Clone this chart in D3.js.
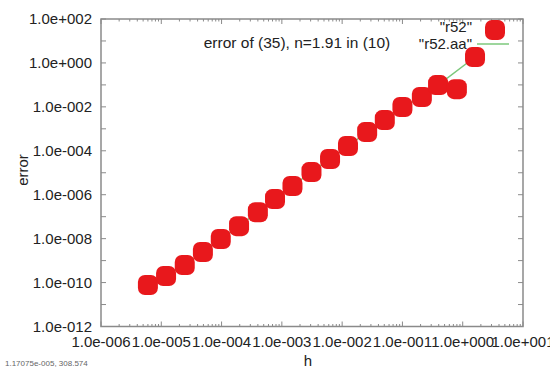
<!DOCTYPE html>
<html>
<head>
<meta charset="utf-8">
<script src="https://cdn.jsdelivr.net/npm/d3@7"></script>
<style>
  body { margin: 0; background: #fff; }
  text { font-family: "Liberation Sans", Arial, sans-serif; }
</style>
</head>
<body>
<div id="chart"></div>
<script>
// error vs h, log-log (gnuplot style)
var r52H = [6.0e-6, 1.2e-5, 2.45e-5, 4.9e-5, 9.7e-5, 1.95e-4, 4.0e-4, 7.7e-4, 1.5e-3, 3.1e-3,
            6.3e-3, 1.25e-2, 2.6e-2, 5.1e-2, 0.10, 0.21, 0.39, 0.80, 1.6];
var r52Err = [7.7e-11, 2.0e-10, 6.3e-10, 2.45e-9, 9.6e-9, 3.7e-8, 1.6e-7, 6.3e-7, 2.5e-6, 1.07e-5,
              4.2e-5, 1.65e-4, 7.1e-4, 2.5e-3, 9.8e-3, 2.8e-2, 9.8e-2, 6.4e-2, 1.86];
var aaH = [6.0e-6, 1.2e-5, 2.45e-5, 4.9e-5, 9.7e-5, 1.95e-4, 4.0e-4, 7.7e-4, 1.5e-3, 3.1e-3,
           6.3e-3, 1.25e-2, 2.6e-2, 5.1e-2, 0.10, 0.21, 0.39, 1.6];
var aaErr = [7.7e-11, 2.0e-10, 6.3e-10, 2.45e-9, 9.6e-9, 3.7e-8, 1.6e-7, 6.3e-7, 2.5e-6, 1.07e-5,
             4.2e-5, 1.65e-4, 7.1e-4, 2.5e-3, 9.8e-3, 2.8e-2, 9.8e-2, 1.86];

var xTicks = [1e-6, 1e-5, 1e-4, 1e-3, 1e-2, 1e-1, 1e0, 1e1];
var xTickLabels = ["1.0e-006", "1.0e-005", "1.0e-004", "1.0e-003", "1.0e-002", "1.0e-001", "1.0e+000", "1.0e+001"];
var yTicks = [1e2, 1e0, 1e-2, 1e-4, 1e-6, 1e-8, 1e-10, 1e-12];
var yTickLabels = ["1.0e+002", "1.0e+000", "1.0e-002", "1.0e-004", "1.0e-006", "1.0e-008", "1.0e-010", "1.0e-012"];
var yMinor = [1e1, 1e-1, 1e-3, 1e-5, 1e-7, 1e-9, 1e-11];

var width = 550, height = 371;
var plot = { left: 101, right: 523, top: 19, bottom: 326.5 };
var frameColor = "#8a8a8a";
var textColor = "#222";

var svg = d3.select("#chart").append("svg")
    .attr("width", width)
    .attr("height", height);

var x = d3.scaleLog().domain([1e-6, 1e1]).range([plot.left, plot.right]);
var y = d3.scaleLog().domain([1e-12, 1e2]).range([plot.bottom, plot.top]);

// frame
svg.append("rect")
    .attr("x", plot.left).attr("y", plot.top)
    .attr("width", plot.right - plot.left)
    .attr("height", plot.bottom - plot.top)
    .attr("fill", "none")
    .attr("stroke", frameColor)
    .attr("stroke-width", 1.5);

// ticks inward on all sides
var tl = 5;
var ticksG = svg.append("g").attr("stroke", frameColor).attr("stroke-width", 1);
xTicks.forEach(function (t) {
    ticksG.append("line").attr("x1", x(t)).attr("x2", x(t)).attr("y1", plot.bottom).attr("y2", plot.bottom - tl);
    ticksG.append("line").attr("x1", x(t)).attr("x2", x(t)).attr("y1", plot.top).attr("y2", plot.top + tl);
});
// minor x ticks
x.ticks().filter(function (t) { return xTicks.indexOf(t) < 0; }).forEach(function (t) {
    ticksG.append("line").attr("x1", x(t)).attr("x2", x(t)).attr("y1", plot.bottom).attr("y2", plot.bottom - 2.5);
    ticksG.append("line").attr("x1", x(t)).attr("x2", x(t)).attr("y1", plot.top).attr("y2", plot.top + 2.5);
});
yTicks.concat(yMinor).forEach(function (t) {
    ticksG.append("line").attr("x1", plot.left).attr("x2", plot.left + tl).attr("y1", y(t)).attr("y2", y(t));
    ticksG.append("line").attr("x1", plot.right).attr("x2", plot.right - tl).attr("y1", y(t)).attr("y2", y(t));
});

// tick labels
svg.append("g").selectAll("text")
    .data(xTicks)
    .enter().append("text")
    .attr("x", function (d) { return x(d); })
    .attr("y", 347)
    .attr("font-size", "15px")
    .attr("fill", textColor)
    .style("text-anchor", "middle")
    .text(function (d, i) { return xTickLabels[i]; });

svg.append("g").selectAll("text")
    .data(yTicks)
    .enter().append("text")
    .attr("x", plot.left - 9)
    .attr("y", function (d) { return y(d); })
    .attr("dy", "0.35em")
    .attr("font-size", "15px")
    .attr("fill", textColor)
    .style("text-anchor", "end")
    .text(function (d, i) { return yTickLabels[i]; });

// axis titles
svg.append("text")
    .attr("x", 308).attr("y", 366)
    .attr("font-size", "15px").attr("fill", textColor)
    .style("text-anchor", "middle")
    .text("h");
svg.append("text")
    .attr("transform", "translate(28,170) rotate(-90)")
    .attr("font-size", "15px").attr("fill", textColor)
    .style("text-anchor", "middle")
    .text("error");

// label
svg.append("text")
    .attr("x", 297).attr("y", 48)
    .attr("font-size", "15.5px").attr("fill", textColor)
    .style("text-anchor", "middle")
    .text("error of (35), n=1.91 in (10)");

// r52.aa line
var aaLine = d3.line()
    .x(function (d) { return x(d[0]); })
    .y(function (d) { return y(d[1]); });
svg.append("path")
    .datum(d3.zip(aaH, aaErr))
    .attr("d", aaLine)
    .attr("fill", "none")
    .attr("stroke", "#7cc87c")
    .attr("stroke-width", 1.5);

// r52 points
var ms = 20;
svg.append("g").selectAll("rect")
    .data(d3.zip(r52H, r52Err))
    .enter().append("rect")
    .attr("x", function (d) { return x(d[0]) - ms / 2; })
    .attr("y", function (d) { return y(d[1]) - ms / 2; })
    .attr("width", ms).attr("height", ms)
    .attr("rx", 7).attr("ry", 7)
    .attr("fill", "#e8181c");

// key
var key = svg.append("g");
key.append("text")
    .attr("x", 472).attr("y", 27).attr("dy", "0.35em")
    .attr("font-size", "15px").attr("fill", textColor)
    .style("text-anchor", "end")
    .text("\"r52\"");
key.append("rect")
    .attr("x", 495 - ms / 2).attr("y", 30 - ms / 2)
    .attr("width", ms).attr("height", ms)
    .attr("rx", 7).attr("ry", 7)
    .attr("fill", "#e8181c");
key.append("text")
    .attr("x", 472).attr("y", 44).attr("dy", "0.35em")
    .attr("font-size", "15px").attr("fill", textColor)
    .style("text-anchor", "end")
    .text("\"r52.aa\"");
key.append("line")
    .attr("x1", 477).attr("x2", 509).attr("y1", 44).attr("y2", 44)
    .attr("stroke", "#7cc87c").attr("stroke-width", 1.5);

// mouse readout
svg.append("text")
    .attr("x", 5).attr("y", 366)
    .attr("font-size", "8px").attr("fill", "#666")
    .text("1.17075e-005,  308.574");
</script>
</body>
</html>
